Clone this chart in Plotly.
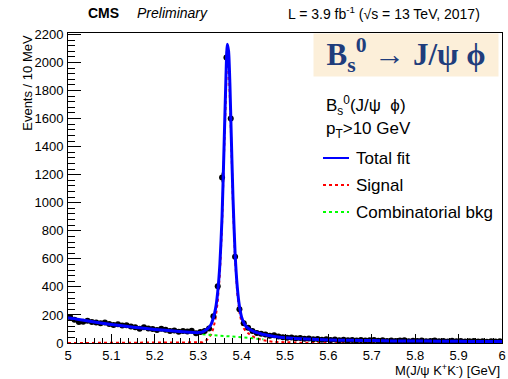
import plotly.graph_objects as go

# ---------------- data ----------------
bin_centers = [5.005, 5.015, 5.025, 5.035, 5.045, 5.055, 5.065, 5.075, 5.085, 5.095,
               5.105, 5.115, 5.125, 5.135, 5.145, 5.155, 5.165, 5.175, 5.185, 5.195,
               5.205, 5.215, 5.225, 5.235, 5.245, 5.255, 5.265, 5.275, 5.285, 5.295,
               5.305, 5.315, 5.325, 5.335, 5.345, 5.355, 5.365, 5.375, 5.385, 5.395,
               5.405, 5.415, 5.425, 5.435, 5.445, 5.455, 5.465, 5.475, 5.485, 5.495,
               5.505, 5.515, 5.525, 5.535, 5.545, 5.555, 5.565, 5.575, 5.585, 5.595,
               5.605, 5.615, 5.625, 5.635, 5.645, 5.655, 5.665, 5.675, 5.685, 5.695,
               5.705, 5.715, 5.725, 5.735, 5.745, 5.755, 5.765, 5.775, 5.785, 5.795,
               5.805, 5.815, 5.825, 5.835, 5.845, 5.855, 5.865, 5.875, 5.885, 5.895,
               5.905, 5.915, 5.925, 5.935, 5.945, 5.955, 5.965, 5.975, 5.985, 5.995]
events = [185, 165, 150, 152, 158, 150, 147, 140, 146, 136,
          128, 134, 124, 127, 118, 112, 102, 113, 104, 99,
          92, 101, 95, 86, 89, 80, 86, 82, 87, 70,
          78, 86, 104, 190, 405, 1180, 2035, 1600, 615, 240,
          140, 108, 86, 72, 66, 60, 52, 55, 46, 41,
          38, 40, 34, 36, 30, 32, 27, 29, 24, 26,
          22, 25, 20, 23, 19, 22, 18, 21, 17, 20,
          22, 16, 19, 15, 18, 14, 17, 20, 13, 16,
          15, 18, 12, 15, 17, 13, 14, 11, 16, 12,
          14, 10, 13, 15, 11, 12, 9, 13, 11, 12]

fit_x = [5.00, 5.05, 5.10, 5.15, 5.20, 5.25, 5.28, 5.30, 5.31, 5.32, 5.325, 5.33,
         5.335, 5.34, 5.345, 5.35, 5.355, 5.36, 5.364, 5.367, 5.37, 5.373, 5.376,
         5.38, 5.385, 5.39, 5.395, 5.40, 5.405, 5.41, 5.42, 5.43, 5.44, 5.45, 5.475,
         5.50, 5.55, 5.60, 5.65, 5.70, 5.75, 5.80, 5.85, 5.90, 5.95, 6.00]
total_fit = [180, 155, 132, 113, 97, 84, 77, 74, 80, 98, 112, 135,
             180, 245, 365, 565, 905, 1450, 1900, 2130, 2080, 1850, 1500,
             1050, 640, 400, 262, 185, 145, 120, 95, 80, 70, 60, 47,
             38, 28, 22, 19, 17, 15, 14, 13, 12, 11, 10]
signal_fit = [0, 0, 0, 0, 0, 0, 0, 1, 5, 22, 38, 62,
              105, 175, 295, 495, 845, 1395, 1845, 2078, 2030, 1800, 1455,
              1005, 598, 356, 220, 143, 105, 82, 57, 40, 28, 19, 8,
              4, 1, 0, 0, 0, 0, 0, 0, 0, 0, 0]

bkg_x = [5.31, 5.32, 5.33, 5.34, 5.35, 5.36, 5.37, 5.38, 5.39, 5.40, 5.41, 5.42, 5.43, 5.44, 5.45]
bkg_fit = [62, 60, 58, 56, 55, 53, 50, 48, 45, 42, 39, 36, 32, 29, 27]

y_ticks = [0, 200, 400, 600, 800, 1000, 1200, 1400, 1600, 1800, 2000, 2200]
x_ticks = [5, 5.1, 5.2, 5.3, 5.4, 5.5, 5.6, 5.7, 5.8, 5.9, 6]
x_tick_labels = ["5", "5.1", "5.2", "5.3", "5.4", "5.5", "5.6", "5.7", "5.8", "5.9", "6"]

errors = [v ** 0.5 for v in events]

FONT = "Liberation Sans, Arial, Helvetica, sans-serif"

fig = go.Figure()

fig.add_trace(go.Scatter(x=fit_x, y=signal_fit, mode="lines",
                         line=dict(color="#ff0000", width=2, dash="dot"),
                         showlegend=False, hoverinfo="skip"))
fig.add_trace(go.Scatter(x=bkg_x, y=bkg_fit, mode="lines",
                         line=dict(color="#00ff00", width=2, dash="dot"),
                         showlegend=False, hoverinfo="skip"))
fig.add_trace(go.Scatter(x=bin_centers, y=events, mode="markers",
                         marker=dict(color="black", size=6, symbol="circle"),
                         error_y=dict(type="data", array=errors, color="black",
                                      thickness=1, width=0),
                         error_x=dict(type="constant", value=0.005, color="black",
                                      thickness=1, width=0),
                         showlegend=False))
fig.add_trace(go.Scatter(x=fit_x, y=total_fit, mode="lines",
                         line=dict(color="#0000ff", width=3, shape="spline", smoothing=0.6),
                         showlegend=False, hoverinfo="skip"))

fig.update_layout(
    width=508, height=379,
    margin=dict(l=68, r=6, t=33, b=36, autoexpand=False),
    paper_bgcolor="white", plot_bgcolor="white",
    font=dict(family=FONT, size=13, color="black"),
    xaxis=dict(range=[5, 6], tickvals=x_ticks, ticktext=x_tick_labels,
               ticks="inside", ticklen=9, tickwidth=1, tickcolor="black",
               showline=True, linecolor="black", linewidth=1, mirror=True,
               showgrid=False, zeroline=False,
               minor=dict(dtick=0.02, tick0=5, ticks="inside", ticklen=5,
                          tickcolor="black", showgrid=False),
               tickfont=dict(size=13)),
    yaxis=dict(range=[0, 2210], tickvals=y_ticks,
               ticks="inside", ticklen=13, tickwidth=1, tickcolor="black",
               showline=True, linecolor="black", linewidth=1, mirror=True,
               showgrid=False, zeroline=False,
               minor=dict(dtick=40, tick0=0, ticks="inside", ticklen=7,
                          tickcolor="black", showgrid=False),
               tickfont=dict(size=13), ticklabelstandoff=1),
)

ann = []
ann.append(dict(text="Events / 10 MeV", textangle=-90, xref="paper", yref="paper",
                x=-0.095, y=1.0, xanchor="center", yanchor="top", showarrow=False,
                font=dict(size=13)))
ann.append(dict(text="M(J/ψ K<sup>+</sup>K<sup>-</sup>) [GeV]", xref="paper", yref="paper",
                x=1.0, y=-0.088, xanchor="right", yanchor="middle", showarrow=False,
                font=dict(size=13)))
ann.append(dict(text="<b>CMS</b>", xref="paper", yref="paper", x=(86 - 68) / 434,
                y=1 + 20 / 310, xanchor="left", yanchor="middle", showarrow=False,
                font=dict(size=14)))
ann.append(dict(text="<i>Preliminary</i>", xref="paper", yref="paper", x=(135 - 68) / 434,
                y=1 + 20 / 310, xanchor="left", yanchor="middle", showarrow=False,
                font=dict(size=14)))
ann.append(dict(text="L = 3.9 fb<sup>-1</sup> (√s = 13 TeV, 2017)", xref="paper", yref="paper",
                x=(482 - 68) / 434, y=1 + 20 / 310, xanchor="right", yanchor="middle",
                showarrow=False, font=dict(size=14)))
# Title box
ann.append(dict(text="<b>B<sub>s</sub><sup>0</sup> → J/ψ ϕ</b>", xref="paper", yref="paper",
                x=(406 - 68) / 434, y=(343 - 55) / 310, xanchor="center", yanchor="middle",
                showarrow=False, bgcolor="#fcefd9",
                font=dict(size=31, family="Liberation Serif, DejaVu Serif, serif", color="#1f3d7c"),
                width=182, height=40))
# Legend texts
leg_font = dict(size=17)
ann.append(dict(text="B<sub>s</sub><sup>0</sup>(J/ψ  ϕ)", xref="paper", yref="paper",
                x=(324 - 68) / 434, y=(343 - 105) / 310, xanchor="left", yanchor="middle",
                showarrow=False, font=leg_font))
ann.append(dict(text="p<sub>T</sub>>10 GeV", xref="paper", yref="paper",
                x=(324 - 68) / 434, y=(343 - 130) / 310, xanchor="left", yanchor="middle",
                showarrow=False, font=leg_font))
for label, ypix in [("Total fit", 158), ("Signal", 185), ("Combinatorial bkg", 212)]:
    ann.append(dict(text=label, xref="paper", yref="paper",
                    x=(354 - 68) / 434, y=(343 - ypix) / 310, xanchor="left", yanchor="middle",
                    showarrow=False, font=leg_font))
fig.update_layout(annotations=ann)

shapes = []
for color, dash, width, ypix in [("#0000ff", "solid", 2, 158), ("#ff0000", "dot", 2, 185),
                                 ("#00ff00", "dot", 2, 212)]:
    yy = (343 - ypix) / 310
    shapes.append(dict(type="line", xref="paper", yref="paper",
                       x0=(323 - 68) / 434, x1=(349 - 68) / 434, y0=yy, y1=yy,
                       line=dict(color=color, width=width, dash=dash)))
fig.update_layout(shapes=shapes)

fig.write_html("out.html")
